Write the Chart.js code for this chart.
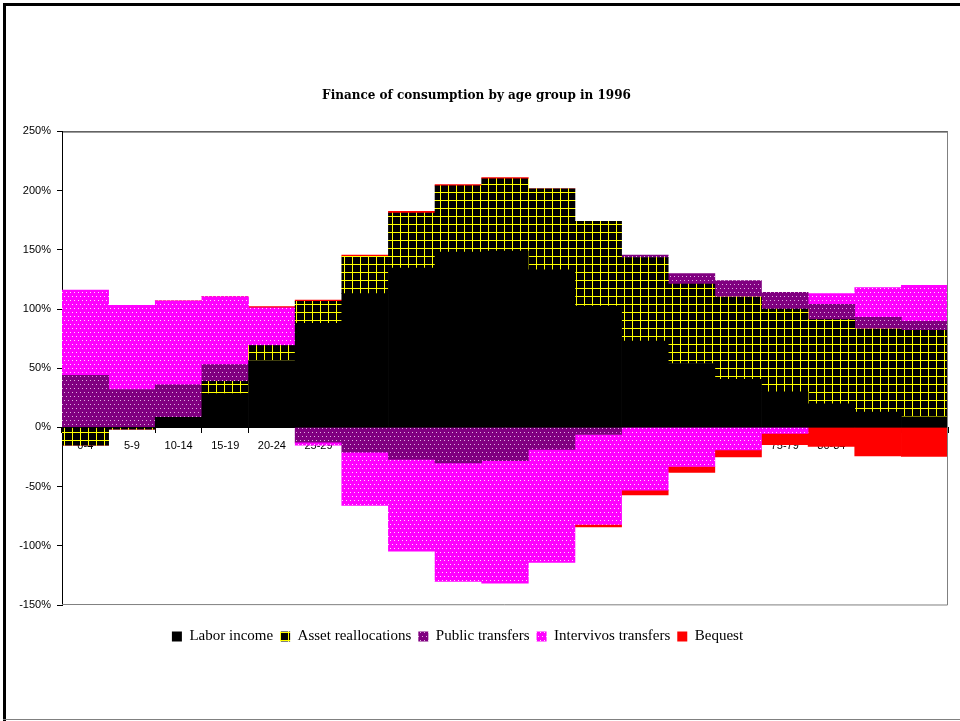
<!DOCTYPE html>
<html>
<head>
<meta charset="utf-8">
<script src="https://cdn.jsdelivr.net/npm/chart.js@4"></script>
<style>
  html, body { margin: 0; padding: 0; background: #fff; }
  canvas { display: block; }
</style>
</head>
<body>
<canvas id="myChart" width="960" height="721"></canvas>
<script>
const ageGroups = ['0-4', '5-9', '10-14', '15-19', '20-24', '25-29', '30-34', '35-39', '40-44', '45-49',
  '50-54', '55-59', '60-64', '65-69', '70-74', '75-79', '80-84', '85-89', '90+'];

// shares of consumption, in %
const laborIncome = [0, 0, 8.5, 28.5, 56.5, 88, 113, 134.5, 148, 149, 133, 102.5, 73, 54, 40.5, 30, 20, 13, 9];
const assetReallocations = [-15, -1.5, 0, 10.5, 12.5, 18.5, 31.5, 46.5, 56, 61, 68.5, 71.5, 70.5, 67, 69.5, 70, 71, 70, 73];
const publicTransfers = [44, 32, 27.5, 14, 0, -12.5, -21, -27, -30, -28, -18.5, -6, 2, 9, 14, 14, 13, 10, 7.5];
const intervivosTransfers = [72, 71, 71, 57.5, 32, -2.5, -45, -77.5, -100, -103.5, -95.5, -76, -53, -33, -19, -5, 9, 25, 30.5];
const bequest = [0, 0, 0, 0, 1, 1, 1, 1.5, 1, 1, 0, -2, -4, -5, -6, -9.5, -16, -24, -24.5];

const yMin = -150;
const yMax = 250;
const yStep = 50;

function tile(bg, paint) {
  const c = document.createElement('canvas');
  c.width = 8;
  c.height = 8;
  const g = c.getContext('2d');
  g.fillStyle = bg;
  g.fillRect(0, 0, 8, 8);
  paint(g);
  return g.createPattern(c, 'repeat');
}

function dots(bg, dot) {
  return tile(bg, g => {
    g.fillStyle = dot;
    g.fillRect(0, 0, 1, 1);
    g.fillRect(4, 0, 1, 1);
    g.fillRect(2, 4, 1, 1);
    g.fillRect(6, 4, 1, 1);
  });
}

const gridFill = tile('#000000', g => {
  g.fillStyle = '#ffff00';
  g.fillRect(0, 0, 8, 1);
  g.fillRect(0, 0, 1, 8);
});
const purpleFill = dots('#800080', '#e0b0e0');
const magentaFill = dots('#ff00ff', '#ffd8ff');

const tickFont = { family: '"Liberation Sans", Arial, sans-serif', size: 11 };

// page frame + plot area border
const framePlugin = {
  id: 'frame',
  beforeDraw(chart) {
    const ctx = chart.ctx;
    ctx.save();
    ctx.fillStyle = '#ffffff';
    ctx.fillRect(0, 0, chart.width, chart.height);
    ctx.restore();
  },
  afterDraw(chart) {
    const ctx = chart.ctx;
    const a = chart.chartArea;
    ctx.save();
    ctx.lineWidth = 1;
    ctx.strokeStyle = '#000';
    ctx.beginPath();
    ctx.moveTo(a.left, a.top + 0.5);
    ctx.lineTo(a.right, a.top + 0.5);
    ctx.stroke();
    ctx.strokeStyle = '#808080';
    ctx.beginPath();
    ctx.moveTo(a.right - 0.5, a.top);
    ctx.lineTo(a.right - 0.5, a.bottom);
    ctx.lineTo(a.left, a.bottom - 0.5);
    ctx.stroke();

    ctx.fillStyle = '#000';
    ctx.fillRect(3, 3, 3, chart.height - 3);
    ctx.fillRect(3, 3, chart.width - 3, 3);
    ctx.fillStyle = '#808080';
    ctx.fillRect(3, chart.height - 2, chart.width - 3, 1);
    ctx.restore();
  },
  afterLayout(chart) {
    // legend sits a bit left of centre and lower than its box in the original
    const lg = chart.legend;
    lg.right -= 38;
    lg.top += 17;
    lg.bottom += 17;
  }
};

const data = {
  labels: ageGroups,
  datasets: [
    { label: 'Labor income', data: laborIncome, backgroundColor: '#000000' },
    { label: 'Asset reallocations', data: assetReallocations, backgroundColor: gridFill },
    { label: 'Public transfers', data: publicTransfers, backgroundColor: purpleFill },
    { label: 'Intervivos transfers', data: intervivosTransfers, backgroundColor: magentaFill },
    { label: 'Bequest', data: bequest, backgroundColor: '#ff0000' }
  ]
};
data.datasets.forEach(ds => {
  ds.borderWidth = 0;
  ds.categoryPercentage = 1;
  ds.barPercentage = 1;
});

const config = {
  type: 'bar',
  data: data,
  options: {
    responsive: false,
    animation: false,
    layout: { padding: { left: 5, right: 12, top: 0, bottom: 84 } },
    scales: {
      x: {
        stacked: true,
        position: { y: 0 },
        z: 1,
        grid: { offset: true, drawOnChartArea: false, tickLength: 5, color: '#000' },
        border: { color: '#000' },
        ticks: { font: tickFont, color: '#000', padding: 7, maxRotation: 0, autoSkip: false }
      },
      y: {
        stacked: true,
        min: yMin,
        max: yMax,
        grid: { drawOnChartArea: false, tickLength: 5, color: '#000' },
        border: { color: '#000' },
        ticks: { stepSize: yStep, font: tickFont, color: '#000', padding: 6, callback: v => v + '%' },
        afterFit(scale) { scale.width = 57; }
      }
    },
    plugins: {
      title: {
        display: true,
        text: 'Finance of consumption by age group in 1996',
        color: '#000',
        font: { family: '"DejaVu Serif", serif', size: 12, weight: 'bold' },
        padding: { top: 89, bottom: 28 }
      },
      legend: {
        position: 'bottom',
        labels: {
          color: '#000',
          font: { family: '"Liberation Serif", "Times New Roman", serif', size: 15 },
          boxWidth: 10,
          boxHeight: 10,
          padding: 7
        }
      },
      tooltip: { enabled: false }
    }
  },
  plugins: [framePlugin]
};

const ctx = document.getElementById('myChart').getContext('2d');
const chart = new Chart(ctx, config);
</script>
</body>
</html>
